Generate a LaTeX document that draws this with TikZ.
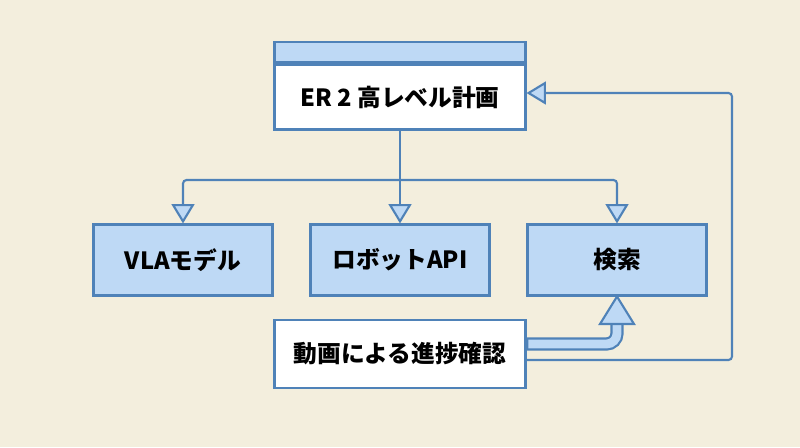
\documentclass[tikz,border=0pt]{standalone}
\usepackage{fontspec}
\setmainfont{Noto Sans CJK JP}
\usetikzlibrary{arrows.meta}
\definecolor{bgcol}{HTML}{F3EEDD}
\definecolor{linecol}{HTML}{4F82B8}
\definecolor{boxcol}{HTML}{BED9F5}
\tikzset{
  box/.style={draw=linecol, line width=1.2pt, fill=boxcol, minimum width=3.58cm, minimum height=1.42cm, font=\bfseries\fontsize{13.5}{15}\selectfont},
  wbox/.style={box, fill=white, minimum width=5.02cm},
  conn/.style={draw=linecol, line width=1.2pt, -{Triangle[open, fill=boxcol, length=11pt, width=13pt]}}
}
\begin{document}
\begin{tikzpicture}[x=0.02cm, y=-0.02cm]
\fill[bgcol] (0,0) rectangle (800,447);
\useasboundingbox (0,0) rectangle (800,447);
% top planner with header strip
\node[wbox, minimum height=1.3cm] (plan) at (400,97) {ER 2 高レベル計画};
\node[box, minimum width=5.02cm, minimum height=0.4cm, anchor=south] (head) at (plan.north) {};
% middle row
\node[box] (vla) at (183,260) {VLAモデル};
\node[box] (api) at (400,260) {ロボットAPI};
\node[box] (srch) at (617,260) {検索};
% bottom
\node[wbox, minimum height=1.36cm] (vid) at (400,354) {動画による進捗確認};
\coordinate (bus) at (400,180);
\draw[line width=1.2pt, linecol] (plan.south) -- (bus);
\draw[conn] (bus) -- (api.north);
\draw[conn, rounded corners=2pt] (bus) -| (vla.north);
\draw[conn, rounded corners=2pt] (bus) -| (srch.north);
% feedback loop
\coordinate (fb) at (732,360);
\draw[conn, rounded corners=2pt] (vid.east |- fb) -- (fb) |- (plan.east |- 0,93);
% hollow thick arrow
\coordinate (hk) at (617,344);
\draw[linecol, line width=7.5pt, rounded corners=6pt] (vid.east |- hk) -- (hk) -- (617,322);
\draw[boxcol, line width=5pt, rounded corners=6pt] ([xshift=1pt]vid.east |- hk) -- (hk) -- (617,321);
\draw[linecol, line width=1.2pt, fill=boxcol] (600,324) -- (634,324) -- (srch.south) -- cycle;
\end{tikzpicture}
\end{document}
